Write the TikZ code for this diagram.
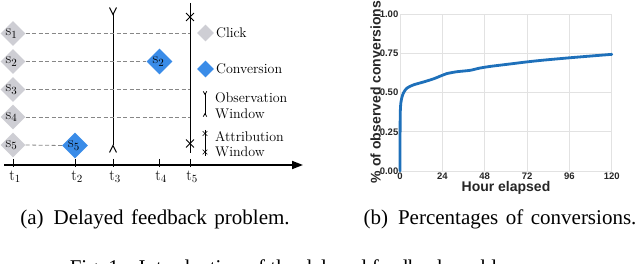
\documentclass[tikz,border=0pt]{standalone}
\usepackage{fontspec}
\newfontfamily\capfont{Liberation Serif}
\newfontfamily\plotfont{Liberation Sans}
\usetikzlibrary{arrows.meta,shapes.geometric,shapes.misc}
\definecolor{clickgray}{RGB}{206,206,212}
\definecolor{convblue}{RGB}{58,140,232}
\definecolor{dashgray}{RGB}{135,135,135}
\definecolor{gridgray}{RGB}{226,226,226}
\definecolor{curveblue}{RGB}{30,112,186}
\definecolor{plottext}{RGB}{38,38,38}
\newcommand{\wsp}{\hspace{7.5pt}}
\begin{document}
\begin{tikzpicture}[x=1pt,y=-1pt,
  clickd/.style={diamond,fill=clickgray,inner sep=0pt,minimum size=25pt},
  convd/.style={diamond,fill=convblue,inner sep=0pt,minimum size=26pt},
  slab/.style={font=\fontsize{15.5}{15.5}\selectfont,inner sep=0pt},
  tlab/.style={font=\fontsize{15.5}{15.5}\selectfont,inner sep=0pt},
  connd/.style={dashgray,dash pattern=on 4pt off 2.5pt,line width=0.8pt},
  vline/.style={line width=1pt},
  rbarb/.style={{Straight Barb[reversed,length=7pt,width=7pt]}-{Straight Barb[reversed,length=7pt,width=7pt]}},
  sbarb/.style={{Straight Barb[reversed,length=3pt,width=3.5pt]}-{Straight Barb[reversed,length=3pt,width=3.5pt]}},
  xmark/.style={cross out,draw,line width=0.9pt,minimum size=7pt,inner sep=0pt},
  sxmark/.style={cross out,draw,line width=0.7pt,minimum size=4pt,inner sep=0pt},
  legtext/.style={anchor=west,align=left,inner sep=0pt,font=\fontsize{14}{15.5}\selectfont},
  tickmark/.style={line width=0.8pt},
  gridl/.style={gridgray,line width=0.8pt},
  ticklab/.style={inner sep=0pt,text=plottext,font=\plotfont\bfseries\fontsize{9.5}{9.5}\selectfont},
  axlab/.style={inner sep=0pt,text=plottext,font=\plotfont\bfseries\fontsize{14}{14}\selectfont},
  caplab/.style={inner sep=0pt,anchor=base,font=\capfont\fontsize{21}{21}\selectfont}]
\useasboundingbox (0,0) rectangle (640,264);

% ---------- (a) delayed feedback ----------
% time axis
\coordinate (ax0) at (4,165);
\coordinate (ax1) at (303,165);
\draw[line width=1.7pt,-{Triangle[length=11pt,width=8pt]}] (ax0) -- (ax1);
\foreach \i/\x in {1/13,2/75,3/113,4/159,5/190}{
  \coordinate (tk\i) at (\x,165);
  \draw[tickmark] ([yshift=6pt]tk\i) -- ([yshift=-2pt]tk\i);
  \node[tlab] (tl\i) at (\x+2,177) {$\mathrm{t}_{\i}$};
}

% vertical lines
\coordinate (t3top) at (113,7);
\coordinate (t3bot) at (113,153);
\draw[vline,rbarb] (t3bot) -- (t3top);
\coordinate (t5top) at (190,3);
\coordinate (t5bot) at (190,153);
\draw[vline] (t5top) -- (t5bot);
\node[xmark] (x5a) at (190,17) {};
\node[xmark] (x5b) at (190,143.5) {};

% clicks
\foreach \i/\y in {1/33.5,2/61.5,3/89.5,4/117,5/145}{
  \node[clickd,label={[slab,xshift=-1.5pt]center:$\mathrm{s}_{\i}$}] (c\i) at (13,\y) {};
}
% conversions
\node[convd,label={[slab,xshift=-1pt]center:$\mathrm{s}_{2}$}] (v2) at (159.5,61.5) {};
\node[convd,label={[slab,xshift=-1pt]center:$\mathrm{s}_{5}$}] (v5) at (75,145.5) {};

% dashed connectors
\draw[connd] (c1.east) -- (c1 -| t5top);
\draw[connd] (c2.east) -- (v2.west);
\draw[connd] (c3.east) -- (c3 -| t5top);
\draw[connd] (c4.east) -- (c4 -| t5top);
\draw[connd] (c5.east) -- (v5.west);

% legend
\node[clickd,minimum size=17pt] (lc) at (205.5,33) {};
\node[legtext] (lct) at (216,33) {Click};
\node[convd,minimum size=17pt] (lv) at (205.5,69) {};
\node[legtext] (lvt) at (216,69) {Conversion};
\coordinate (ow1) at (205,91);
\coordinate (ow2) at (205,117);
\draw[line width=0.8pt,sbarb] (ow2) -- (ow1);
\node[legtext] (owt) at (215,105.5) {Observation\\Window};
\coordinate (aw1) at (205,130);
\coordinate (aw2) at (205,156);
\draw[line width=0.8pt] (aw1) -- (aw2);
\node[sxmark] (awx1) at (205,133.5) {};
\node[sxmark] (awx2) at (205,152) {};
\node[legtext] (awt) at (215,144) {Attribution\\Window};

\node[caplab] (capa) at (155,225) {(a)\hspace{10pt}Delayed\wsp feedback\wsp problem.};

% ---------- (b) percentages ----------
\begin{scope}[shift={(400,171)},x=1.765pt,y=157pt]
  \foreach \h in {0,24,...,120}{ \draw[gridl] (\h,0) -- (\h,1); }
  \foreach \v in {0,0.25,0.5,0.75,1}{ \draw[gridl] (0,\v) -- (120,\v); }
  \foreach \v/\l in {0/0.00,0.25/0.25,0.5/0.50,0.75/0.75,1/1.00}{
    \node[ticklab,anchor=east] (yl\l) at ([xshift=-1.5pt]0,\v) {\l};
  }
  \foreach \h in {0,24,...,120}{
    \node[ticklab,anchor=north] (xl\h) at ([yshift=-1.5pt]\h,0) {\h};
  }
  \draw[curveblue,line width=2.8pt,line join=round,line cap=round]
    plot[smooth,tension=0.45] coordinates {
      (0,0) (0.04,0.2) (0.12,0.36) (0.45,0.43) (1.0,0.465) (1.9,0.496) (3.8,0.527)
      (7.5,0.548) (13,0.566) (19,0.587) (23.6,0.608) (26.4,0.620) (32,0.632)
      (39.6,0.641) (45,0.655) (51,0.666) (60.4,0.679) (72,0.695) (81.2,0.706)
      (96,0.721) (110,0.734) (120,0.743)};
\end{scope}
\node[axlab,rotate=90] (ylab) at (375.5,92) {\% of observed conversions};
\node[axlab,anchor=base] (xlab) at (506,192) {Hour elapsed};

\node[caplab] (capb) at (500,225) {(b)\hspace{10pt}Percentages\wsp of\wsp conversions.};
\node[caplab] (fig) at (299,274.5) {Fig.\ 1:\hspace{14pt}Introduction\ of\ the\ delayed\ feedback\ problem.};
\end{tikzpicture}
\end{document}
